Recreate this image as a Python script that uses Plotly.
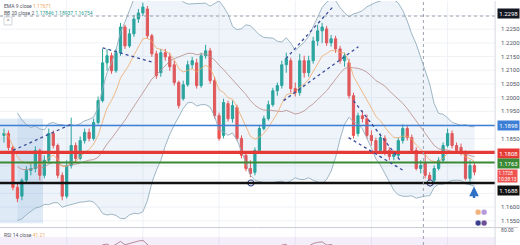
import plotly.graph_objects as go
import pandas as pd

W, H = 520, 245

# ---------------- data ----------------
opens = [1.1862, 1.1869, 1.1818, 1.1672, 1.1640, 1.1698, 1.1734, 1.1741, 1.1807, 1.1716,
         1.1771, 1.1869, 1.1825, 1.1716, 1.1640, 1.1752, 1.1825, 1.1778, 1.1843, 1.1873,
         1.1851, 1.1909, 1.1989, 1.2127, 1.2153, 1.2098, 1.2164, 1.2258, 1.2189, 1.2233,
         1.2287, 1.2309, 1.2324, 1.2226, 1.2160, 1.2091, 1.2164, 1.2149, 1.2120, 1.2055,
         1.1996, 1.2047, 1.2120, 1.2127, 1.2044, 1.2153, 1.2171, 1.2062, 1.1934, 1.1862,
         1.1978, 1.1923, 1.1964, 1.1851, 1.1789, 1.1741, 1.1727, 1.1807, 1.1887, 1.1923,
         1.1974, 1.2025, 1.2044, 1.2120, 1.2135, 1.2033, 1.2018, 1.2135, 1.2091, 1.2135,
         1.2207, 1.2244, 1.2251, 1.2200, 1.2215, 1.2178, 1.2135, 1.2127, 1.2007, 1.1869,
         1.1934, 1.1923, 1.1862, 1.1843, 1.1807, 1.1851, 1.1807, 1.1785, 1.1789, 1.1843,
         1.1887, 1.1854, 1.1807, 1.1741, 1.1760, 1.1716, 1.1698, 1.1741, 1.1771, 1.1825,
         1.1869, 1.1825, 1.1818, 1.1800, 1.1705, 1.1752]
highs = [1.1887, 1.1880, 1.1825, 1.1687, 1.1705, 1.1749, 1.1760, 1.1822, 1.1814, 1.1789,
         1.1887, 1.1880, 1.1832, 1.1727, 1.1771, 1.1927, 1.1836, 1.1858, 1.1887, 1.1887,
         1.1923, 1.2004, 1.2178, 1.2178, 1.2164, 1.2178, 1.2273, 1.2266, 1.2251, 1.2302,
         1.2324, 1.2346, 1.2335, 1.2233, 1.2171, 1.2178, 1.2178, 1.2164, 1.2135, 1.2062,
         1.2062, 1.2135, 1.2149, 1.2142, 1.2164, 1.2193, 1.2182, 1.2076, 1.1945, 1.1996,
         1.1989, 1.1989, 1.1974, 1.1862, 1.1800, 1.1771, 1.1818, 1.1898, 1.1934, 1.1989,
         1.2036, 1.2055, 1.2135, 1.2164, 1.2146, 1.2055, 1.2160, 1.2153, 1.2153, 1.2222,
         1.2266, 1.2273, 1.2262, 1.2229, 1.2226, 1.2189, 1.2164, 1.2142, 1.2018, 1.1945,
         1.1953, 1.1938, 1.1880, 1.1854, 1.1869, 1.1862, 1.1818, 1.1807, 1.1854, 1.1902,
         1.1898, 1.1865, 1.1818, 1.1771, 1.1800, 1.1727, 1.1752, 1.1782, 1.1836, 1.1887,
         1.1880, 1.1836, 1.1832, 1.1807, 1.1771, 1.1760]
lows = [1.1836, 1.1807, 1.1661, 1.1618, 1.1625, 1.1687, 1.1716, 1.1727, 1.1698, 1.1705,
        1.1760, 1.1814, 1.1705, 1.1625, 1.1632, 1.1741, 1.1763, 1.1771, 1.1832, 1.1840,
        1.1843, 1.1902, 1.1982, 1.2098, 1.2087, 1.2091, 1.2153, 1.2178, 1.2182, 1.2222,
        1.2273, 1.2298, 1.2215, 1.2149, 1.2069, 1.2076, 1.2135, 1.2098, 1.2044, 1.1960,
        1.1989, 1.2040, 1.2105, 1.2033, 1.2036, 1.2142, 1.2051, 1.1923, 1.1843, 1.1851,
        1.1913, 1.1909, 1.1843, 1.1778, 1.1731, 1.1709, 1.1716, 1.1800, 1.1880, 1.1916,
        1.1967, 1.2007, 1.2033, 1.2091, 1.2018, 1.2004, 1.2007, 1.2073, 1.2076, 1.2124,
        1.2189, 1.2200, 1.2189, 1.2186, 1.2164, 1.2124, 1.2113, 1.1996, 1.1851, 1.1858,
        1.1909, 1.1851, 1.1825, 1.1796, 1.1796, 1.1789, 1.1771, 1.1771, 1.1778, 1.1832,
        1.1843, 1.1796, 1.1734, 1.1723, 1.1705, 1.1676, 1.1687, 1.1734, 1.1763, 1.1818,
        1.1814, 1.1796, 1.1789, 1.1698, 1.1680, 1.1716]
closes = [1.1869, 1.1818, 1.1672, 1.1632, 1.1698, 1.1734, 1.1741, 1.1807, 1.1716, 1.1771,
          1.1869, 1.1825, 1.1716, 1.1640, 1.1752, 1.1825, 1.1778, 1.1843, 1.1873, 1.1851,
          1.1909, 1.1989, 1.2127, 1.2153, 1.2098, 1.2164, 1.2258, 1.2189, 1.2233, 1.2287,
          1.2309, 1.2331, 1.2226, 1.2160, 1.2080, 1.2164, 1.2149, 1.2113, 1.2055, 1.1971,
          1.2047, 1.2120, 1.2135, 1.2044, 1.2153, 1.2171, 1.2062, 1.1934, 1.1851, 1.1982,
          1.1923, 1.1971, 1.1851, 1.1789, 1.1741, 1.1723, 1.1807, 1.1887, 1.1923, 1.1974,
          1.2025, 1.2044, 1.2120, 1.2142, 1.2033, 1.2018, 1.2135, 1.2091, 1.2135, 1.2207,
          1.2244, 1.2258, 1.2200, 1.2215, 1.2178, 1.2135, 1.2153, 1.2007, 1.1862, 1.1934,
          1.1923, 1.1862, 1.1843, 1.1807, 1.1854, 1.1800, 1.1785, 1.1792, 1.1843, 1.1887,
          1.1854, 1.1807, 1.1741, 1.1752, 1.1716, 1.1691, 1.1741, 1.1771, 1.1825, 1.1869,
          1.1825, 1.1807, 1.1800, 1.1705, 1.1752, 1.1728]

# horizontal price levels
level_prices = [1.1898, 1.1800, 1.1763, 1.1688]
level_labels = ["1.1898", "1.1808", "1.1763", "1.1688"]
level_colors = ["#3d7fd6", "#e53935", "#3a8a35", "#111111"]
level_widths = [1.5, 3.2, 2.0, 2.6]
level_label_shift = [0, -1, -1, -7]
dotted_level = 1.2298
dotted_level_label = "1.2298"

# drawn trend lines: (start index, start price, end index, end price)
trend_x0 = [2.0, 22.0, 62.9, 62.4, 78.0, 76.9]
trend_y0 = [1.1807, 1.2182, 1.2142, 1.1989, 1.1989, 1.1854]
trend_x1 = [15.3, 33.6, 73.6, 79.1, 88.4, 89.1]
trend_y1 = [1.1905, 1.2127, 1.2335, 1.2186, 1.1771, 1.1734]

circle_x = [55.1, 95.1]
circle_y = [1.1688, 1.1688]
vline_x = 93.6
arrow_x, arrow_y = 104.9, 1.1675
box_x0, box_x1, box_y0, box_y1 = -0.9, 8.7, 1.1541, 1.1923

grid_levels = [1.1550, 1.1600, 1.1650, 1.1700, 1.1750, 1.1800, 1.1850, 1.1900,
               1.1950, 1.2000, 1.2050, 1.2100, 1.2150, 1.2200, 1.2250, 1.2300]
y_ticks = [1.1550, 1.1600, 1.1850, 1.1950, 1.2000, 1.2050, 1.2100, 1.2150, 1.2200, 1.2250]
rsi_ticks = [60, 80]
grid_x = [14, 31, 48, 65, 82, 99]

# ---------------- indicators ----------------
n = len(closes)
idx = list(range(n))
s = pd.Series(closes)
ema9 = s.ewm(span=9, adjust=False).mean()
basis = s.rolling(20, min_periods=4).mean()
sd = s.rolling(20, min_periods=4).std(ddof=0)
upper = basis + 2 * sd
lower = basis - 2 * sd
delta = s.diff()
gain = delta.clip(lower=0).ewm(alpha=1 / 14, adjust=False).mean()
loss = (-delta.clip(upper=0)).ewm(alpha=1 / 14, adjust=False).mean()
rsi = 100 - 100 / (1 + gain / loss)

# ---------------- geometry ----------------
plot_right = 497 / W
main_bottom = 1 - 227 / H
rsi_top = 17 / H
xr = [-0.889, 109.6]
yr = [1.1527, 1.2353]
rr = [58.57, 82.86]

fig = go.Figure()

# BB fill + lines
fig.add_trace(go.Scatter(x=idx, y=upper, mode="lines", line=dict(color="#93aebd", width=0.9),
                         xaxis="x", yaxis="y", hoverinfo="skip"))
fig.add_trace(go.Scatter(x=idx, y=lower, mode="lines", line=dict(color="#93aebd", width=0.9),
                         fill="tonexty", fillcolor="rgba(90,150,210,0.10)",
                         xaxis="x", yaxis="y", hoverinfo="skip"))
fig.add_trace(go.Scatter(x=idx, y=basis, mode="lines", line=dict(color="#b98a86", width=0.8),
                         xaxis="x", yaxis="y", hoverinfo="skip"))
fig.add_trace(go.Scatter(x=idx, y=ema9, mode="lines", line=dict(color="#f0a868", width=0.8),
                         xaxis="x", yaxis="y", hoverinfo="skip"))

fig.add_trace(go.Candlestick(
    x=idx, open=opens, high=highs, low=lows, close=closes,
    increasing=dict(line=dict(color="#26a69a", width=1), fillcolor="#26a69a"),
    decreasing=dict(line=dict(color="#ef5350", width=1), fillcolor="#ef5350"),
    whiskerwidth=0, xaxis="x", yaxis="y"))

# circles
fig.add_trace(go.Scatter(x=circle_x, y=circle_y, mode="markers",
                         marker=dict(symbol="circle", size=6, color="white",
                                     line=dict(color="#3b4e96", width=1.2)),
                         xaxis="x", yaxis="y", hoverinfo="skip"))

# RSI
fig.add_trace(go.Scatter(x=idx, y=rsi, mode="lines", line=dict(color="#b07d8c", width=0.9),
                         xaxis="x2", yaxis="y2", hoverinfo="skip"))

shapes = []
# left shaded box
shapes.append(dict(type="rect", xref="x", yref="y", x0=box_x0, x1=box_x1, y0=box_y0, y1=box_y1,
                   fillcolor="rgba(110,160,220,0.22)", line=dict(width=0), layer="below"))
# grid
for gx in grid_x:
    shapes.append(dict(type="line", xref="x", yref="paper", x0=gx, x1=gx, y0=0, y1=1,
                       line=dict(color="#eef1f6", width=1), layer="below"))
for gy in grid_levels:
    shapes.append(dict(type="line", xref="paper", yref="y", x0=0, x1=plot_right, y0=gy, y1=gy,
                       line=dict(color="#f0f2f6", width=1), layer="below"))
# RSI band
shapes.append(dict(type="rect", xref="paper", yref="y2", x0=0, x1=plot_right, y0=rr[0], y1=70,
                   fillcolor="rgba(150,90,210,0.10)", line=dict(width=0), layer="below"))
# horizontal levels
for p, c, w in zip(level_prices, level_colors, level_widths):
    shapes.append(dict(type="line", xref="paper", yref="y", x0=0, x1=plot_right, y0=p, y1=p,
                       line=dict(color=c, width=w), layer="above"))
shapes.append(dict(type="line", xref="paper", yref="y", x0=0, x1=plot_right, y0=dotted_level,
                   y1=dotted_level, line=dict(color="#9aa0ad", width=1, dash="dot"), layer="above"))
# trend lines
for a, b, c, d in zip(trend_x0, trend_y0, trend_x1, trend_y1):
    shapes.append(dict(type="line", xref="x", yref="y", x0=a, y0=b, x1=c, y1=d,
                       line=dict(color="#3a4c9a", width=1.3, dash="dot"), layer="above"))
# vertical dotted
shapes.append(dict(type="line", xref="x", yref="paper", x0=vline_x, x1=vline_x, y0=0, y1=1,
                   line=dict(color="#9aa0ad", width=1, dash="dot"), layer="above"))
# pane separators
shapes.append(dict(type="line", xref="paper", yref="paper", x0=0, x1=1, y0=1 - 227.5 / H,
                   y1=1 - 227.5 / H, line=dict(color="#c9ccd4", width=1)))
shapes.append(dict(type="line", xref="paper", yref="paper", x0=plot_right, x1=plot_right,
                   y0=0, y1=1, line=dict(color="#d6d9e0", width=1)))
# small button top-left
shapes.append(dict(type="rect", xref="paper", yref="paper", x0=4 / W, x1=12 / W,
                   y0=1 - 24 / H, y1=1 - 16 / H, line=dict(color="#c9ccd4", width=0.8),
                   fillcolor="white"))
# event icons
for (cx, cy, col) in [(480, 212, "#f2b27c"), (486, 212, "#b49ad8"),
                      (480, 223, "#3a3f8c"), (486, 223, "#6c4f97")]:
    shapes.append(dict(type="circle", xref="paper", yref="paper",
                       x0=(cx - 3) / W, x1=(cx + 3) / W, y0=1 - (cy + 3) / H, y1=1 - (cy - 3) / H,
                       fillcolor=col, line=dict(color="white", width=0.5)))

F = "Roboto, Liberation Sans, Arial"
ann = []
lab_x = 499 / W


def box(text, y, bg, yshift=0, size=6, pad=1.2):
    ann.append(dict(x=lab_x, xref="paper", y=y, yref="y", text=text, showarrow=False,
                    xanchor="left", yanchor="middle", bgcolor=bg, borderpad=pad,
                    font=dict(family=F, size=size, color="white"), yshift=yshift, align="left"))


box(dotted_level_label, dotted_level, "#131722", yshift=3)
for p, lbl, c, sh in zip(level_prices, level_labels, level_colors, level_label_shift):
    box(lbl, p, c, yshift=sh)
box("%.4f<br>10:38:13" % closes[-1], closes[-1], "#ef5350", yshift=-4, size=4.6, pad=0.6)

ann.append(dict(x=2 / W, xref="paper", y=1 - 0 / H, yref="paper", xanchor="left", yanchor="top",
                showarrow=False, font=dict(family=F, size=5, color="#50535e"),
                text="EMA 9 close <span style='color:#f0a868'>%.5f</span>" % ema9.iloc[-1]))
ann.append(dict(x=2 / W, xref="paper", y=1 - 7 / H, yref="paper", xanchor="left", yanchor="top",
                showarrow=False, font=dict(family=F, size=5, color="#50535e"),
                text="BB 20 close 2 <span style='color:#2a9d8f'>%.5f %.5f %.5f</span>"
                     % (basis.iloc[-1], upper.iloc[-1], lower.iloc[-1])))
ann.append(dict(x=8 / W, xref="paper", y=1 - 20 / H, yref="paper", xanchor="center",
                yanchor="middle", showarrow=False, font=dict(family=F, size=5, color="#50535e"),
                text="^"))
ann.append(dict(x=2 / W, xref="paper", y=1 - 230 / H, yref="paper", xanchor="left",
                yanchor="top", showarrow=False, font=dict(family=F, size=5, color="#50535e"),
                text="RSI 14 close <span style='color:#f0a868'>%.2f</span>" % rsi.iloc[-1]))
# blue arrow
ann.append(dict(x=arrow_x, y=arrow_y, xref="x", yref="y", text="", showarrow=True,
                ax=0, ay=13, arrowhead=2, arrowsize=0.8, arrowwidth=2.4, arrowcolor="#2f6fc6"))

fig.update_layout(
    width=W, height=H, margin=dict(l=0, r=0, t=0, b=0),
    paper_bgcolor="white", plot_bgcolor="white", showlegend=False,
    shapes=shapes, annotations=ann,
    xaxis=dict(domain=[0, plot_right], range=xr, showgrid=False, showticklabels=False,
               zeroline=False, rangeslider=dict(visible=False), anchor="y", fixedrange=True),
    xaxis2=dict(domain=[0, plot_right], range=xr, showgrid=False, showticklabels=False,
                zeroline=False, anchor="y2", matches="x"),
    yaxis=dict(domain=[main_bottom, 1], range=yr, side="right", tickvals=y_ticks,
               ticktext=["%.4f" % v for v in y_ticks], tickfont=dict(family=F, size=6, color="#50535e"),
               showgrid=False, zeroline=False, ticks="", anchor="x",
               ticklabelstandoff=5),
    yaxis2=dict(domain=[0, rsi_top], range=rr, side="right", tickvals=rsi_ticks,
                ticktext=["%.2f" % v for v in rsi_ticks], tickfont=dict(family=F, size=5, color="#50535e"),
                showgrid=False, zeroline=False, ticks="", anchor="x2", ticklabelstandoff=5),
)

fig.write_html("out.html")
